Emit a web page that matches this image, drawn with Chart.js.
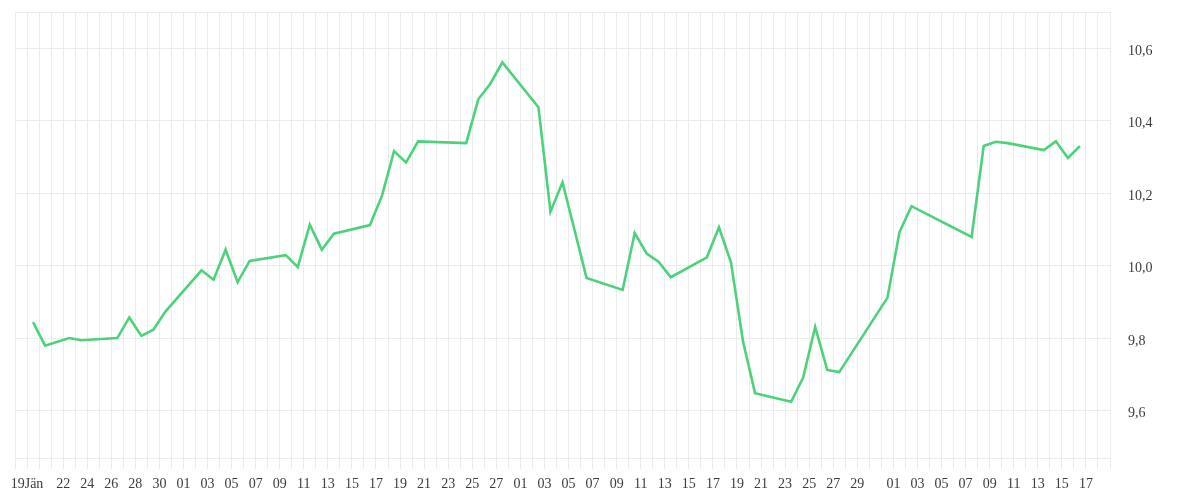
<!DOCTYPE html>
<html>
<head>
<meta charset="utf-8">
<script src="https://cdn.jsdelivr.net/npm/chart.js@4/dist/chart.umd.min.js"></script>
<style>
  html, body { margin: 0; padding: 0; background: #fff; }
  #wrap { width: 1200px; height: 500px; position: relative; }
</style>
</head>
<body>
<div id="wrap"><canvas id="c"></canvas></div>
<script>
// Axis start (day 0) and data
const axisStart = '2015-01-18';

const dates = [
  '2015-01-19','2015-01-20','2015-01-22','2015-01-23','2015-01-26','2015-01-27','2015-01-28','2015-01-29','2015-01-30',
  '2015-02-02','2015-02-03','2015-02-04','2015-02-05','2015-02-06','2015-02-09','2015-02-10','2015-02-11','2015-02-12','2015-02-13',
  '2015-02-16','2015-02-17','2015-02-18','2015-02-19','2015-02-20','2015-02-24','2015-02-25','2015-02-26','2015-02-27',
  '2015-03-02','2015-03-03','2015-03-04','2015-03-06','2015-03-09','2015-03-10','2015-03-11','2015-03-12','2015-03-13',
  '2015-03-16','2015-03-17','2015-03-18','2015-03-19','2015-03-20','2015-03-23','2015-03-24','2015-03-25','2015-03-26','2015-03-27',
  '2015-03-31','2015-04-01','2015-04-02','2015-04-07','2015-04-08','2015-04-09','2015-04-10','2015-04-13','2015-04-14','2015-04-15','2015-04-16'
];

const values = [
  9.844, 9.779, 9.800, 9.794, 9.800, 9.857, 9.806, 9.823, 9.873,
  9.987, 9.961, 10.044, 9.954, 10.013, 10.029, 9.996, 10.113, 10.044, 10.088,
  10.112, 10.193, 10.316, 10.285, 10.343, 10.338, 10.459, 10.502, 10.561,
  10.437, 10.149, 10.230, 9.966, 9.933, 10.090, 10.033, 10.010, 9.968,
  10.023, 10.106, 10.009, 9.791, 9.648, 9.624, 9.691, 9.831, 9.712, 9.706,
  9.911, 10.092, 10.164, 10.079, 10.330, 10.342, 10.338, 10.319, 10.343, 10.297, 10.330
];

// One entry per day on the x axis (Jan 18 .. Apr 19)
const tickLabels = [
  // Jan 18-31
  '', '19Jän', '', '', '22', '', '24', '', '26', '', '28', '', '30', '',
  // Feb 1-28
  '01','', '03','', '05','', '07','', '09','', '11','', '13','', '15','', '17','', '19','', '21','', '23','', '25','', '27','',
  // Mar 1-31
  '01','', '03','', '05','', '07','', '09','', '11','', '13','', '15','', '17','', '19','', '21','', '23','', '25','', '27','', '29','', '',
  // Apr 1-19
  '01','', '03','', '05','', '07','', '09','', '11','', '13','', '15','', '17','', ''
];

const yMin = 9.469;
const yMax = 10.7;
const yTicks = [9.469, 9.6, 9.8, 10.0, 10.2, 10.4, 10.6, 10.7];
const yLabeled = [9.6, 9.8, 10.0, 10.2, 10.4, 10.6];

const dayMs = 86400000;
const t0 = Date.parse(axisStart + 'T00:00:00Z');
const points = dates.map((d, i) => ({
  x: (Date.parse(d + 'T00:00:00Z') - t0) / dayMs + 0.5,
  y: values[i]
}));

const gridColor = '#ebebeb';
const labelFont = { family: "'Liberation Serif', 'Times New Roman', serif", size: 14 };

new Chart(document.getElementById('c'), {
  type: 'line',
  data: {
    datasets: [{
      data: points,
      borderColor: '#4cd27b',
      borderWidth: 2.6,
      pointRadius: 0,
      pointHoverRadius: 0,
      tension: 0,
      fill: false
    }]
  },
  options: {
    responsive: true,
    maintainAspectRatio: false,
    animation: false,
    layout: { padding: { left: 15, top: 12, right: 0, bottom: 0 } },
    plugins: { legend: { display: false }, tooltip: { enabled: false } },
    scales: {
      x: {
        type: 'linear',
        min: 0,
        max: tickLabels.length - 1,
        afterBuildTicks: (scale) => { scale.ticks = tickLabels.map((_, i) => ({ value: i })); },
        afterFit: (scale) => { scale.height = 42; scale.paddingLeft = 0; scale.paddingRight = 0; },
        grid: { color: gridColor, lineWidth: 1, drawTicks: true, tickLength: 11 },
        border: { color: gridColor },
        ticks: {
          autoSkip: false,
          maxRotation: 0,
          minRotation: 0,
          padding: 7,
          color: '#3c3c3c',
          font: labelFont,
          callback: (v) => tickLabels[Math.round(v)] ?? ''
        }
      },
      y: {
        position: 'right',
        min: yMin,
        max: yMax,
        afterBuildTicks: (scale) => { scale.ticks = yTicks.map(v => ({ value: v })); },
        afterFit: (scale) => { scale.width = 90; scale.paddingTop = 0; scale.paddingBottom = 0; },
        grid: { color: gridColor, lineWidth: 1, drawTicks: false },
        border: { color: gridColor },
        ticks: {
          padding: 18,
          labelOffset: 3,
          color: '#3c3c3c',
          font: labelFont,
          callback: (v) => yLabeled.some(l => Math.abs(l - v) < 1e-6) ? v.toFixed(1).replace('.', ',') : ''
        }
      }
    }
  }
});
</script>
</body>
</html>
